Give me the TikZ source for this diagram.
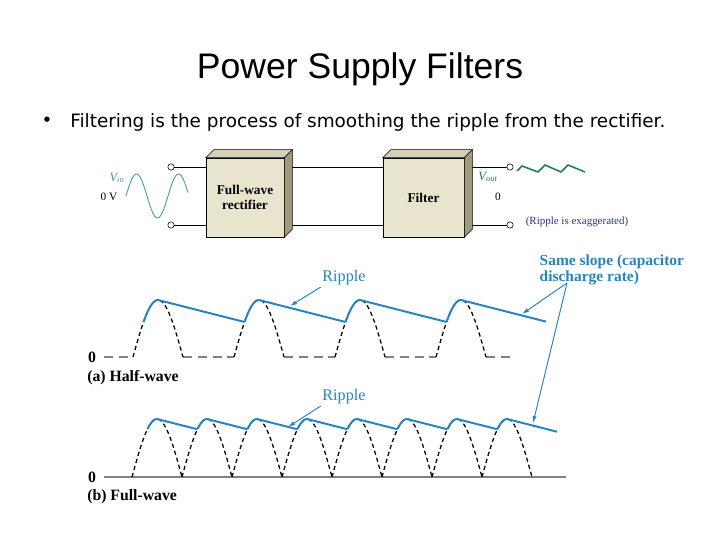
\documentclass[tikz,border=0pt]{standalone}
\usepackage{fontspec}
\setmainfont{Liberation Serif}
\newfontfamily\headfont{Liberation Sans}
\newfontfamily\bodyfont{DejaVu Sans}
\usetikzlibrary{arrows.meta,calc}

\definecolor{vincol}{RGB}{60,150,180}
\definecolor{voutcol}{RGB}{30,125,85}
\definecolor{ripcol}{RGB}{38,132,190}
\definecolor{notecol}{RGB}{40,50,150}
\definecolor{boxfront}{RGB}{232,228,205}
\definecolor{boxtop}{RGB}{212,207,182}
\definecolor{boxside}{RGB}{160,155,125}

\tikzset{
	blockface/.style={draw, fill=boxfront, inner sep=0pt, minimum height=1.975cm, align=center, font=\fontsize{9.5}{11}\selectfont\bfseries},
	boxtopface/.style={draw, fill=boxtop},
	boxsideface/.style={draw, fill=boxside},
	term/.style={draw, circle, fill=white, inner sep=0pt, minimum size=4.5pt},
	wire/.style={line width=0.6pt},
	halfdash/.style={line width=0.9pt, dash pattern=on 3pt off 2.2pt},
	halfbase/.style={gray, line width=0.8pt, dash pattern=on 6.5pt off 4pt},
	fullbase/.style={gray, line width=0.8pt},
	ripple/.style={ripcol, line width=1.4pt},
	callout/.style={ripcol, line width=0.7pt, -{Latex[length=5pt,width=3pt]}},
	bluelabel/.style={text=ripcol, inner sep=1pt},
	axislabel/.style={font=\fontsize{11.2}{13}\selectfont\bfseries, inner sep=0pt}
}

\begin{document}
\begin{tikzpicture}[x=0.025cm,y=-0.025cm]
	\useasboundingbox (0,0) rectangle (720,540);
	\node[font=\headfont\fontsize{25.3}{30}\selectfont] (head) at (360,69) {Power Supply Filters};
	\node[font=\bodyfont\fontsize{13.1}{15}\selectfont] (dot) at (47,122) {•};
	\node[font=\bodyfont\fontsize{13.1}{15}\selectfont, anchor=west, inner sep=0pt] (line1) at (70,122) {Filtering is the process of smoothing the ripple from the rectifier.};

	% block diagram
	\node[term] (inA) at (171,167) {};
	\node[term] (inB) at (171,225) {};
	\node[term] (outA) at (510,167) {};
	\node[term] (outB) at (510,225) {};
	\node[blockface, minimum width=1.95cm] (rect) at (245,197.5) {Full-wave\\rectifier};
	\node[blockface, minimum width=2.025cm] (filt) at (423.5,197.5) {Filter};
	\draw[wire] (inA) -- (rect.west |- inA);
	\draw[wire] (inB) -- (rect.west |- inB);
	\draw[wire] (rect.east |- inA) -- (filt.west |- inA);
	\draw[wire] (rect.east |- inB) -- (filt.west |- inB);
	\draw[wire] (filt.east |- outA) -- (outA);
	\draw[wire] (filt.east |- outB) -- (outB);
	\foreach \bx in {rect,filt} {
		\draw[boxtopface] (\bx.north west) -- ++(8,-8) -- ($(\bx.north east)+(8,-8)$) -- (\bx.north east) -- cycle;
		\draw[boxsideface] (\bx.north east) -- ++(8,-8) -- ($(\bx.south east)+(8,-8)$) -- (\bx.south east) -- cycle;
	}

	\draw[vincol, line width=0.6pt] plot[domain=126:188, samples=60] (\x,{196-22*sin(8.5714*(\x-126))});
	\node[text=vincol, font=\fontsize{9}{10}\selectfont\itshape, inner sep=0pt] (vin) at (117,178) {V\textsubscript{in}};
	\node[font=\fontsize{8}{9}\selectfont, inner sep=0pt] (zin) at (109,197) {0 V};
	\draw[voutcol, line width=1.1pt] (517,171) -- (522,166) -- (538,172) -- (545,165) -- (561,172) -- (568,165) -- (585,172);
	\node[text=voutcol, font=\fontsize{9}{10}\selectfont\itshape, inner sep=0pt] (vout) at (488,177) {V\textsubscript{out}};
	\node[font=\fontsize{8}{9}\selectfont, inner sep=0pt] (zout) at (498,197) {0};
	\node[text=notecol, font=\fontsize{7.8}{9}\selectfont, inner sep=0pt] (note) at (577,222) {(Ripple is exaggerated)};

	% half-wave
	\node[axislabel] (zeroA) at (92,357) {0};
	\node[axislabel, anchor=west] (capA) at (87,378) {(a) Half-wave};
	\draw[halfbase] (104,357) -- (133,357) (183,357) -- (234,357) (284,357) -- (335,357) (385,357) -- (436,357) (486,357) -- (513,357);
	\foreach \p in {158,259,360,461} {
		\pgfmathsetmacro\lo{\p-25}
		\pgfmathsetmacro\hi{\p+25}
		\draw[halfdash] plot[domain=\lo:\hi, samples=30] (\x,{357-57*cos(3.6*(\x-\p))});
	}
	\foreach \p/\run in {158/86.5,259/86.5,360/86.5,461/85} {
		\pgfmathsetmacro\lo{\p-14.5}
		\draw[ripple] plot[domain=\lo:\p, samples=12] (\x,{357-57*cos(3.6*(\x-\p))}) -- ++(\run,{0.254*\run});
	}

	% full-wave
	\node[axislabel] (zeroB) at (92,477) {0};
	\node[axislabel, anchor=west] (capB) at (87,497) {(b) Full-wave};
	\draw[fullbase] (104,477) -- (566,477);
	\foreach \k in {0,...,7} {
		\pgfmathsetmacro\p{157+50*\k}
		\pgfmathsetmacro\lo{\p-25}
		\pgfmathsetmacro\hi{\p+25}
		\draw[halfdash] plot[domain=\lo:\hi, samples=30] (\x,{477-58*cos(3.6*(\x-\p))});
	}
	\foreach \p/\run in {157/40.5,207/40.5,257/40.5,307/40.5,357/40.5,407/40.5,457/40.5,507/50} {
		\pgfmathsetmacro\lo{\p-9.5}
		\draw[ripple] plot[domain=\lo:\p, samples=10] (\x,{477-58*cos(3.6*(\x-\p))}) -- ++(\run,{0.254*\run});
	}

	% callouts
	\node[bluelabel, font=\fontsize{11.5}{13}\selectfont] (ripA) at (344,278) {Ripple};
	\node[bluelabel, font=\fontsize{11.5}{13}\selectfont] (ripB) at (344,397) {Ripple};
	\node[bluelabel, font=\fontsize{11}{11.4}\selectfont\bfseries, align=left, anchor=north west] (slope) at (538,253) {Same slope (capacitor\\discharge rate)};
	\coordinate (tipA) at (290,306);
	\coordinate (tipB) at (288,427);
	\coordinate (fork) at (567,283);
	\coordinate (tipC) at (522,314);
	\coordinate (tipD) at (533,423);
	\draw[callout] (ripA.south west) -- (tipA);
	\draw[callout] (ripB.south west) -- (tipB);
	\draw[callout] (fork) -- (tipC);
	\draw[callout] (fork) -- (tipD);
\end{tikzpicture}
\end{document}
